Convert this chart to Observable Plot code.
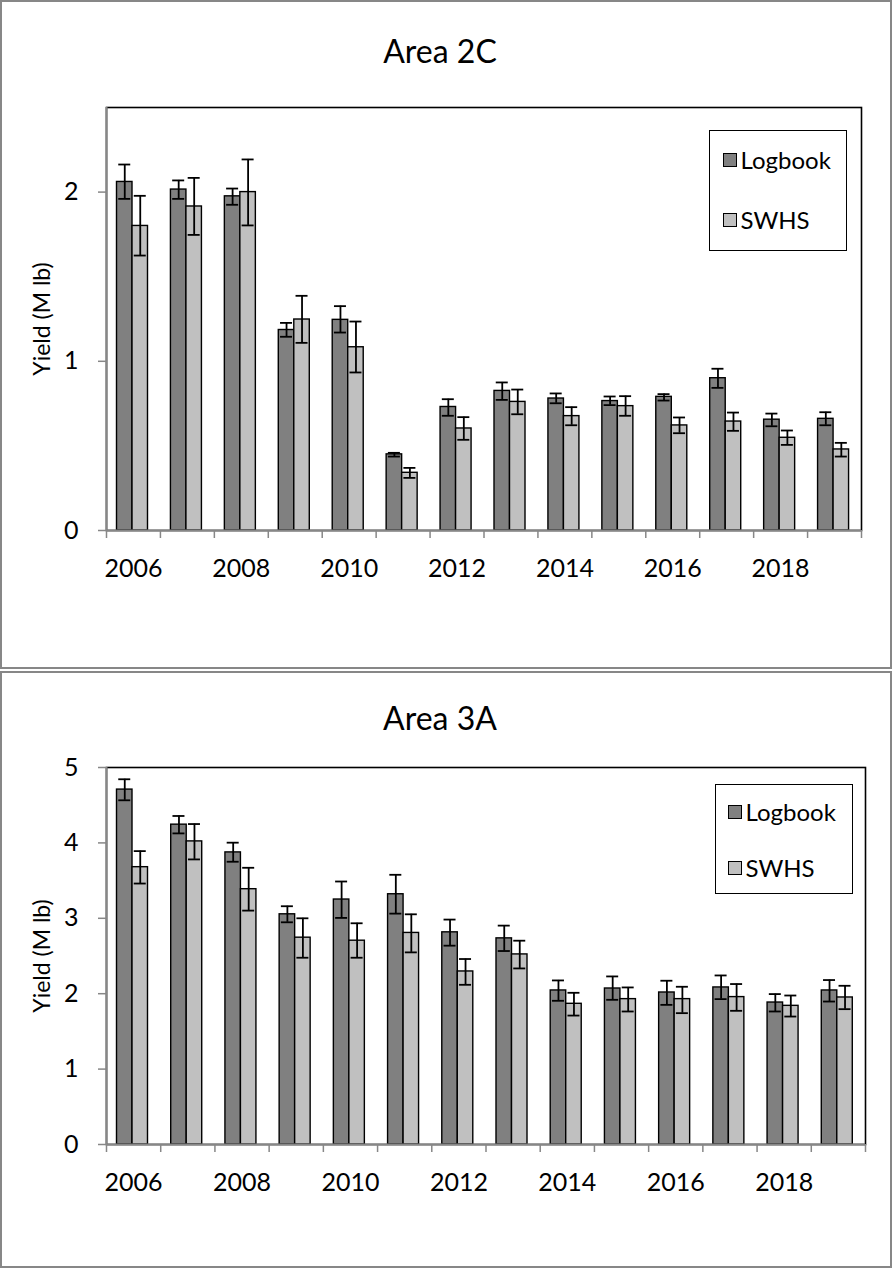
<!DOCTYPE html>
<html>
<head>
<meta charset="utf-8">
<script src="https://cdn.jsdelivr.net/npm/d3@7"></script>
<script src="https://cdn.jsdelivr.net/npm/@observablehq/plot@0.6"></script>
<style>
  html, body { margin: 0; padding: 0; background: white; }
  body { width: 893px; height: 1268px; position: relative; overflow: hidden; font-family: Lato, "Open Sans", sans-serif; }
  .panel { position: absolute; left: 0; width: 892px; box-sizing: border-box; border: 2px solid #878787; background: white; }
  .title { text-align: center; font-size: 32px; color: #000; height: 90px; line-height: 90px; padding-right: 12px; }
  .legend { position: absolute; box-sizing: border-box; border: 1.5px solid #000; background: white; }
  .entry { position: absolute; font-size: 24px; line-height: 24px; display: flex; align-items: center; }
  .sw { width: 14px; height: 14px; box-sizing: border-box; border: 1.3px solid #000; margin-right: 4px; }
  svg { display: block; }
</style>
</head>
<body>
<div id="p1" class="panel" style="top:0;height:669px;"><div class="title" style="padding-top:4px;">Area 2C</div><div id="c1"></div></div>
<div id="p2" class="panel" style="top:671px;height:597px;"><div class="title">Area 3A</div><div id="c2"></div></div>
<script>
const years = [2006, 2007, 2008, 2009, 2010, 2011, 2012, 2013, 2014, 2015, 2016, 2017, 2018, 2019];
const yearLabels = [2006, 2008, 2010, 2012, 2014, 2016, 2018];
const seriesNames = ["Logbook", "SWHS"];
const seriesColors = ["#808080", "#c0c0c0"];

// Area 2C (M lb)
const a2cLogbook   = [2.06, 2.015, 1.975, 1.185, 1.245, 0.45, 0.73, 0.825, 0.78, 0.765, 0.79, 0.9, 0.655, 0.66];
const a2cLogbookLo = [1.96, 1.96, 1.925, 1.145, 1.17, 0.437, 0.678, 0.772, 0.752, 0.741, 0.768, 0.843, 0.616, 0.622];
const a2cLogbookHi = [2.163, 2.069, 2.021, 1.227, 1.326, 0.459, 0.776, 0.875, 0.81, 0.792, 0.806, 0.956, 0.691, 0.699];
const a2cSwhs      = [1.80, 1.915, 2.0, 1.247, 1.083, 0.341, 0.603, 0.76, 0.676, 0.735, 0.621, 0.644, 0.548, 0.479];
const a2cSwhsLo    = [1.625, 1.747, 1.803, 1.109, 0.934, 0.311, 0.536, 0.687, 0.622, 0.678, 0.575, 0.589, 0.506, 0.437];
const a2cSwhsHi    = [1.978, 2.084, 2.193, 1.387, 1.235, 0.37, 0.67, 0.833, 0.729, 0.794, 0.668, 0.697, 0.591, 0.518];

// Area 3A (M lb)
const a3aLogbook   = [4.707, 4.242, 3.874, 3.053, 3.249, 3.319, 2.814, 2.734, 2.043, 2.069, 2.016, 2.083, 1.883, 2.043];
const a3aLogbookLo = [4.565, 4.126, 3.75, 2.947, 3.005, 3.062, 2.637, 2.566, 1.906, 1.919, 1.852, 1.928, 1.764, 1.896];
const a3aLogbookHi = [4.844, 4.357, 4.003, 3.16, 3.488, 3.577, 2.983, 2.903, 2.176, 2.229, 2.172, 2.242, 1.995, 2.181];
const a3aSwhs      = [3.678, 4.02, 3.386, 2.743, 2.703, 2.806, 2.295, 2.521, 1.866, 1.928, 1.928, 1.955, 1.839, 1.95];
const a3aSwhsLo    = [3.461, 3.781, 3.102, 2.477, 2.477, 2.548, 2.118, 2.335, 1.71, 1.764, 1.742, 1.773, 1.697, 1.795];
const a3aSwhsHi    = [3.891, 4.25, 3.67, 3.0, 2.934, 3.053, 2.46, 2.703, 2.012, 2.083, 2.092, 2.128, 1.976, 2.105];

const yTicks2C = [0, 1, 2];
const yTicks3A = [0, 1, 2, 3, 4, 5];

function rowsOf(v, lo, hi) {
  return years.map((year, i) => ({year, value: v[i], lo: lo[i], hi: hi[i]}));
}

function chart({logbook, swhs, yDomain, yTicks, width, height, mL, mR, mT, mB}) {
  const bw = (width - mL - mR) / years.length;
  const gray = "#878787";
  const barW = 15.5;
  const darkL = 10.5, lightL = darkL + barW;
  const darkC = darkL + barW / 2, lightC = lightL + barW / 2;
  const cap = 6;
  const errMarks = (rows, c) => [
    Plot.ruleX(rows, {x: "year", y1: "lo", y2: "hi", dx: c - bw / 2, stroke: "#000", strokeWidth: 1.8}),
    Plot.tickY(rows, {x: "year", y: "hi", insetLeft: c - cap, insetRight: bw - c - cap, stroke: "#000", strokeWidth: 1.8}),
    Plot.tickY(rows, {x: "year", y: "lo", insetLeft: c - cap, insetRight: bw - c - cap, stroke: "#000", strokeWidth: 1.8})
  ];
  return Plot.plot({
    width, height,
    marginLeft: mL, marginRight: mR, marginTop: mT, marginBottom: mB,
    style: {fontFamily: "Lato, 'Open Sans', sans-serif", background: "white", color: "#000", overflow: "visible"},
    x: {type: "band", domain: years, padding: 0, round: false},
    y: {domain: yDomain},
    marks: [
      Plot.frame({stroke: "#000", strokeWidth: 1.6}),
      Plot.barY(logbook, {x: "year", y: "value", fill: seriesColors[0], stroke: "#000", strokeWidth: 1.4,
        insetLeft: darkL, insetRight: bw - darkL - barW}),
      Plot.barY(swhs, {x: "year", y: "value", fill: seriesColors[1], stroke: "#000", strokeWidth: 1.4,
        insetLeft: lightL, insetRight: bw - lightL - barW}),
      ...errMarks(logbook, darkC),
      ...errMarks(swhs, lightC),
      // axis lines (gray, Excel style)
      Plot.ruleY([0], {stroke: gray, strokeWidth: 2}),
      Plot.ruleX([years[0]], {dx: -bw / 2, stroke: gray, strokeWidth: 2}),
      // category boundary tick marks
      Plot.ruleX(years, {x: d => d, y1: 0, y2: 0, insetBottom: -8, dx: -bw / 2, stroke: gray, strokeWidth: 1.5}),
      Plot.ruleX([years[years.length - 1]], {x: d => d, y1: 0, y2: 0, insetBottom: -8, dx: bw / 2, stroke: gray, strokeWidth: 1.5}),
      Plot.axisX({ticks: yearLabels, tickSize: 0, tickPadding: 29, fontSize: 25, label: null, tickFormat: d => String(d)}),
      Plot.axisY({ticks: yTicks, tickSize: 8, tickPadding: 20, fontSize: 25, stroke: gray, strokeWidth: 1.5, fill: "#000", label: null, tickFormat: d => String(d)}),
      Plot.text(["Yield (M lb)"], {frameAnchor: "left", textAnchor: "middle", rotate: -90, dx: -64, fontSize: 23, fill: "#000", text: d => d})
    ]
  });
}

const c1 = chart({
  logbook: rowsOf(a2cLogbook, a2cLogbookLo, a2cLogbookHi),
  swhs: rowsOf(a2cSwhs, a2cSwhsLo, a2cSwhsHi),
  yDomain: [0, 2.5], yTicks: yTicks2C,
  width: 888, height: 571, mL: 104, mR: 29, mT: 11, mB: 137
});
document.getElementById("c1").appendChild(c1);

const c2 = chart({
  logbook: rowsOf(a3aLogbook, a3aLogbookLo, a3aLogbookHi),
  swhs: rowsOf(a3aSwhs, a3aSwhsLo, a3aSwhsHi),
  yDomain: [0, 5], yTicks: yTicks3A,
  width: 888, height: 503, mL: 104, mR: 25, mT: 4, mB: 122
});
document.getElementById("c2").appendChild(c2);

function legend(left, top, w, h, swLeft, centers) {
  const lg = document.createElement("div");
  lg.className = "legend";
  Object.assign(lg.style, {left: left + "px", top: top + "px", width: w + "px", height: h + "px"});
  seriesNames.forEach((name, i) => {
    const e = document.createElement("div");
    e.className = "entry";
    Object.assign(e.style, {left: (swLeft - left - 1.5) + "px", top: (centers[i] - top - 1.5 - 12) + "px", height: "24px"});
    const sw = document.createElement("div");
    sw.className = "sw";
    sw.style.background = seriesColors[i];
    const t = document.createElement("span");
    t.textContent = name;
    e.appendChild(sw); e.appendChild(t);
    lg.appendChild(e);
  });
  document.body.appendChild(lg);
}
legend(709, 130, 138, 121, 723, [160, 220]);
legend(715, 784, 138, 110, 728, [812, 868]);
</script>
</body>
</html>
